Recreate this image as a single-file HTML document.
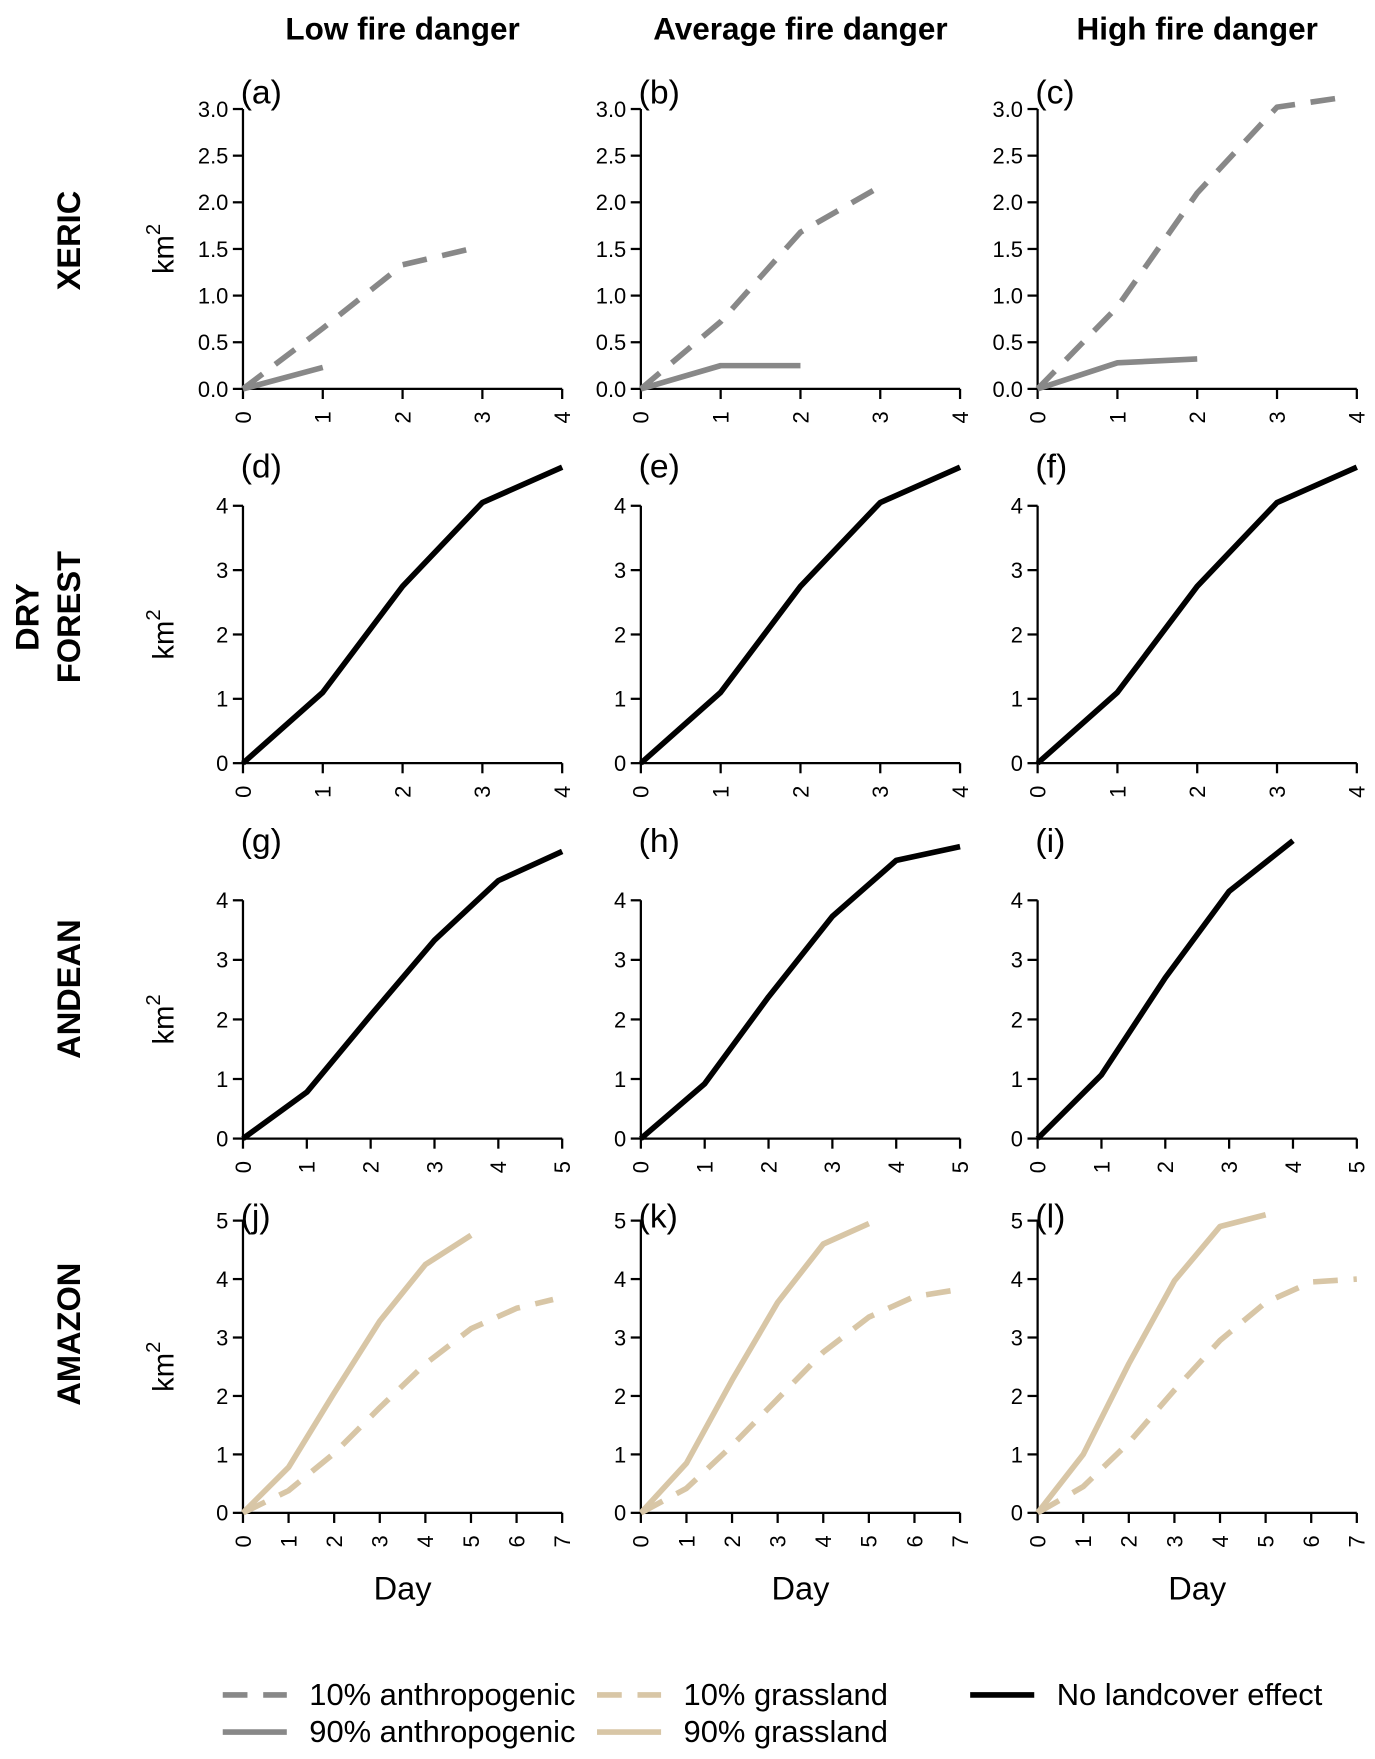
<!DOCTYPE html>
<html><head><meta charset="utf-8"><style>html,body{margin:0;padding:0;background:#fff}svg{display:block}</style></head>
<body>
<svg id="fig" width="1375" height="1759" viewBox="0 0 1223 1565" xmlns="http://www.w3.org/2000/svg" font-family="Liberation Sans, Arial, sans-serif"></svg>
<script>
const colTitles = ["Low fire danger","Average fire danger","High fire danger"];
const rowTitles = [["XERIC"],["DRY","FOREST"],["ANDEAN"],["AMAZON"]];
const panelLetters = ["(a)","(b)","(c)","(d)","(e)","(f)","(g)","(h)","(i)","(j)","(k)","(l)"];
const rowXMax = [4,4,5,7];
const rowYTicks = [[0,0.5,1,1.5,2,2.5,3],[0,1,2,3,4],[0,1,2,3,4],[0,1,2,3,4,5]];
const rowYTickLabels = [["0.0","0.5","1.0","1.5","2.0","2.5","3.0"],["0","1","2","3","4"],["0","1","2","3","4"],["0","1","2","3","4","5"]];
const xericA_dash_x=[0,1,2,2.95], xericA_dash_y=[0,0.65,1.33,1.52];
const xericA_sol_x=[0,1], xericA_sol_y=[0,0.23];
const xericB_dash_x=[0,1,2,3], xericB_dash_y=[0,0.72,1.68,2.17];
const xericB_sol_x=[0,1,2], xericB_sol_y=[0,0.25,0.25];
const xericC_dash_x=[0,1,2,3,3.8], xericC_dash_y=[0,0.88,2.1,3.02,3.12];
const xericC_sol_x=[0,1,2], xericC_sol_y=[0,0.28,0.32];
const dryX=[0,1,2,3,4], dryY=[0,1.1,2.75,4.05,4.6];
const andG_x=[0,1,2,3,4,5], andG_y=[0,0.78,2.07,3.33,4.33,4.82];
const andH_x=[0,1,2,3,4,5], andH_y=[0,0.92,2.38,3.73,4.67,4.9];
const andI_x=[0,1,2,3,4], andI_y=[0,1.07,2.7,4.15,5.0];
const amzJ_sol_x=[0,1,2,3,4,5], amzJ_sol_y=[0,0.78,2.05,3.28,4.25,4.75];
const amzJ_dash_x=[0,1,2,3,4,5,6,6.8], amzJ_dash_y=[0,0.38,1.02,1.8,2.55,3.15,3.5,3.65];
const amzK_sol_x=[0,1,2,3,4,5], amzK_sol_y=[0,0.85,2.27,3.6,4.6,4.95];
const amzK_dash_x=[0,1,2,3,4,5,6,6.8], amzK_dash_y=[0,0.42,1.15,1.95,2.75,3.35,3.7,3.8];
const amzL_sol_x=[0,1,2,3,4,5], amzL_sol_y=[0,1.0,2.55,3.97,4.9,5.1];
const amzL_dash_x=[0,1,2,3,4,5,6,7], amzL_dash_y=[0,0.45,1.2,2.1,2.95,3.6,3.95,4.0];
const series=[
 [0,"anth10",xericA_dash_x,xericA_dash_y],[0,"anth90",xericA_sol_x,xericA_sol_y],
 [1,"anth10",xericB_dash_x,xericB_dash_y],[1,"anth90",xericB_sol_x,xericB_sol_y],
 [2,"anth10",xericC_dash_x,xericC_dash_y],[2,"anth90",xericC_sol_x,xericC_sol_y],
 [3,"none",dryX,dryY],[4,"none",dryX,dryY],[5,"none",dryX,dryY],
 [6,"none",andG_x,andG_y],[7,"none",andH_x,andH_y],[8,"none",andI_x,andI_y],
 [9,"grass90",amzJ_sol_x,amzJ_sol_y],[9,"grass10",amzJ_dash_x,amzJ_dash_y],
 [10,"grass90",amzK_sol_x,amzK_sol_y],[10,"grass10",amzK_dash_x,amzK_dash_y],
 [11,"grass90",amzL_sol_x,amzL_sol_y],[11,"grass10",amzL_dash_x,amzL_dash_y]];
const styles={anth10:["#888888","22 14"],anth90:["#888888",""],grass10:["#d8c6a6","22 14"],grass90:["#d8c6a6",""],none:["#000000",""]};
const names={anth10:"10% anthropogenic",anth90:"90% anthropogenic",grass10:"10% grassland",grass90:"90% grassland",none:"No landcover effect"};

const NS="http://www.w3.org/2000/svg", svg=document.getElementById("fig");
function mk(tag,attrs,parent,text){const e=document.createElementNS(NS,tag);for(const k in attrs)e.setAttribute(k,attrs[k]);if(text!==undefined)e.textContent=text;(parent||svg).appendChild(e);return e;}
const colX0=[216,570,923], plotW=284;
const rowY0=[346,679,1013,1346];
const rowPerUnit=[83,57.25,53,52];
const rowLetterY=[92,425,758,1092];
const rowTitleCY=[214,549,880,1187];
function sx(c,r,v){return colX0[c]+v*plotW/rowXMax[r];}
function sy(r,v){return rowY0[r]-v*rowPerUnit[r];}

colTitles.forEach((t,c)=>{const e=mk("text",{x:colX0[c]+142,y:35,"text-anchor":"middle","font-size":28,"font-weight":"bold"},svg,t);
 });
rowTitles.forEach((lines,r)=>{
 const g=mk("g",{transform:`translate(61,${rowTitleCY[r]}) rotate(-90)`});
 
 lines.forEach((l,i)=>mk("text",{x:0,y:(i-(lines.length-1))*37+10,"text-anchor":"middle","font-size":29,"font-weight":"bold"},g,l));
});
for(let r=0;r<4;r++)for(let c=0;c<3;c++){
 const p=r*3+c;const g=mk("g",{});
 
 const yt=rowYTicks[r], top=sy(r,yt[yt.length-1]);
 const ya=mk("line",{x1:colX0[c],x2:colX0[c],y1:rowY0[r],y2:top,stroke:"#000","stroke-width":2},g);
 
 yt.forEach((v,i)=>{const y=sy(r,v);mk("line",{x1:colX0[c]-9,x2:colX0[c],y1:y,y2:y,stroke:"#000","stroke-width":2},g);
  const t=mk("text",{x:colX0[c]-13,y:y+7,"text-anchor":"end","font-size":19.5},g,rowYTickLabels[r][i]);
  });
 const xa=mk("line",{x1:colX0[c],x2:colX0[c]+plotW,y1:rowY0[r],y2:rowY0[r],stroke:"#000","stroke-width":2},g);
 
 for(let v=0;v<=rowXMax[r];v++){const x=sx(c,r,v);mk("line",{x1:x,x2:x,y1:rowY0[r],y2:rowY0[r]+9,stroke:"#000","stroke-width":2},g);
  const t=mk("text",{transform:`translate(${x+7},${rowY0[r]+20}) rotate(-90)`,"text-anchor":"end","font-size":19.5},g,String(v));
  }
 const lt=mk("text",{x:colX0[c]-2,y:rowLetterY[r],"font-size":30},g,panelLetters[p]);
 
 if(c===0){const k=mk("text",{transform:`translate(154,${(rowY0[r]+top)/2}) rotate(-90)`,"text-anchor":"middle","font-size":26},g);
  
  mk("tspan",{},k,"km");mk("tspan",{"font-size":18,dy:-12},k,"2");}
 if(r===3){const d=mk("text",{x:colX0[c]+142,y:1423,"text-anchor":"middle","font-size":29},g,"Day");
  }
}
series.forEach(s=>{const [p,type,xs,ys]=s;const r=Math.floor(p/3),c=p%3;
 const pts=xs.map((x,i)=>sx(c,r,x).toFixed(1)+","+sy(r,ys[i]).toFixed(1)).join(" ");
 const st=styles[type];const a={points:pts,fill:"none",stroke:st[0],"stroke-width":5,"stroke-linejoin":"round"};
 if(st[1])a["stroke-dasharray"]=st[1];
 const l=mk("polyline",a);});
const legend=[["anth10",205,1508],["anth90",205,1541],["grass10",538,1508],["grass90",538,1541],["none",870,1508]];
legend.forEach(([k,x,y])=>{const g=mk("g",{});
 const st=styles[k];const a={x1:x-7,x2:x+50,y1:y,y2:y,stroke:st[0],"stroke-width":5};if(st[1])a["stroke-dasharray"]=st[1];
 mk("line",a,g);mk("text",{x:x+70,y:y+9,"font-size":27.5},g,names[k]);});
</script>
</body></html>
